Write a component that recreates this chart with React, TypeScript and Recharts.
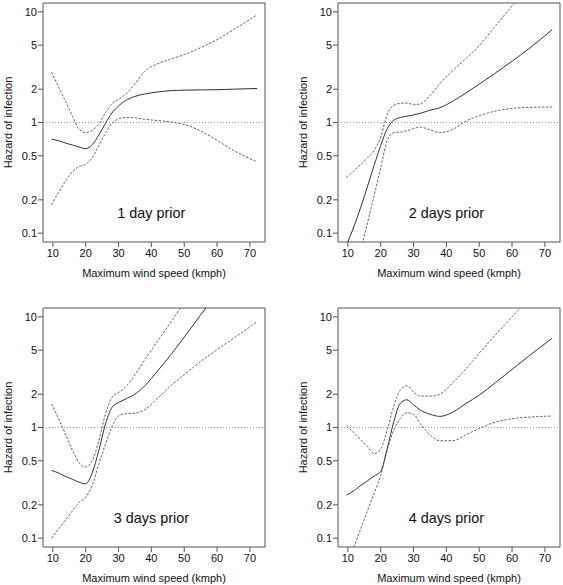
import React from 'react'
import {
  LineChart, Line, XAxis, YAxis, ReferenceLine, ReferenceArea, ReferenceDot, Label,
} from 'recharts'

// ── Hazard of infection vs maximum wind speed, lags 1–4 days ──
const FONT = '"Liberation Sans", Arial, Helvetica, sans-serif'

// wind speed grid (kmph) shared by every panel
const windSpeed = [9.6, 12, 14, 16, 18, 20, 22, 24, 26, 28, 30, 32, 35, 38, 42, 46, 50, 55, 60, 65, 72.2]

// 1 day prior
const est1 = [0.71, 0.68, 0.65, 0.625, 0.6, 0.58, 0.63, 0.77, 0.98, 1.22, 1.41, 1.57, 1.72, 1.81, 1.89, 1.94, 1.96, 1.97, 1.98, 2.0, 2.03]
const upper1 = [2.85, 2.02, 1.52, 1.13, 0.87, 0.81, 0.85, 0.97, 1.22, 1.47, 1.62, 1.78, 2.25, 2.9, 3.4, 3.75, 4.1, 4.75, 5.6, 6.9, 9.4]
const lower1 = [0.18, 0.24, 0.3, 0.36, 0.4, 0.42, 0.48, 0.62, 0.8, 0.98, 1.08, 1.11, 1.1, 1.07, 1.04, 1.01, 0.96, 0.84, 0.69, 0.56, 0.44]

// 2 days prior
const est2 = [0.078, 0.118, 0.174, 0.265, 0.41, 0.62, 0.88, 1.05, 1.11, 1.14, 1.17, 1.21, 1.29, 1.36, 1.56, 1.85, 2.22, 2.81, 3.58, 4.61, 6.9]
const upper2 = [0.32, 0.37, 0.42, 0.48, 0.56, 0.74, 1.19, 1.43, 1.49, 1.5, 1.45, 1.47, 1.75, 2.25, 2.95, 3.8, 4.95, 7.5, 11.3, 17, 30]
const lower2 = [0.02, 0.035, 0.07, 0.124, 0.22, 0.39, 0.69, 0.81, 0.82, 0.84, 0.88, 0.91, 0.86, 0.81, 0.87, 1.03, 1.15, 1.27, 1.34, 1.37, 1.38]

// 3 days prior
const est3 = [0.41, 0.385, 0.36, 0.34, 0.32, 0.31, 0.39, 0.62, 1.07, 1.52, 1.68, 1.8, 2.0, 2.38, 3.27, 4.57, 6.55, 10.4, 16.4, 26, 50]
const upper3 = [1.63, 1.16, 0.85, 0.62, 0.48, 0.44, 0.5, 0.76, 1.32, 1.87, 2.07, 2.3, 3.0, 4.1, 6.1, 9.0, 13.4, 20, 30, 45, 80]
const lower3 = [0.1, 0.124, 0.148, 0.177, 0.21, 0.235, 0.3, 0.47, 0.7, 1.02, 1.27, 1.33, 1.35, 1.45, 1.85, 2.4, 3.0, 3.95, 5.05, 6.4, 9.0]

// 4 days prior
const est4 = [0.245, 0.27, 0.3, 0.33, 0.364, 0.4, 0.65, 1.13, 1.66, 1.78, 1.6, 1.44, 1.32, 1.26, 1.38, 1.65, 1.96, 2.55, 3.35, 4.4, 6.4]
const upper4 = [1.03, 0.89, 0.77, 0.67, 0.58, 0.64, 0.95, 1.57, 2.19, 2.38, 2.09, 1.93, 1.92, 2.0, 2.55, 3.4, 4.7, 6.9, 10.0, 14.5, 25]
const lower4 = [0.056, 0.085, 0.123, 0.177, 0.255, 0.37, 0.63, 0.95, 1.21, 1.36, 1.32, 1.09, 0.86, 0.76, 0.76, 0.86, 0.98, 1.12, 1.2, 1.24, 1.27]

const xTicks = [10, 20, 30, 40, 50, 60, 70]
const yTicks = [0.1, 0.2, 0.5, 1, 2, 5, 10]

const X_DOMAIN: [number, number] = [7, 74.6]
const Y_DOMAIN: [number, number] = [Math.pow(10, -1.08), Math.pow(10, 1.08)]

const tickStyle = { fontSize: 11, fill: '#111', fontFamily: FONT }

function Panel({ title, est, upper, lower, left, top }: {
  title: string
  est: number[]
  upper: number[]
  lower: number[]
  left: number
  top: number
}) {
  const data = windSpeed.map((x, i) => ({ x, est: est[i], upper: upper[i], lower: lower[i] }))
  return (
    <div style={{ position: 'absolute', left, top }}>
      <LineChart width={280} height={290} data={data} margin={{ top: 3, right: 15, bottom: 13, left: 0 }}>
        <XAxis
          dataKey="x" type="number" domain={X_DOMAIN} ticks={xTicks} allowDataOverflow
          axisLine={false} tickSize={5} tickMargin={2} tickLine={{ stroke: '#555' }} tick={tickStyle} height={35}
        >
          <Label value="Maximum wind speed (kmph)" position="insideBottom" offset={0}
            style={{ fontSize: 11, fill: '#111', fontFamily: FONT }} />
        </XAxis>
        <YAxis
          type="number" scale="log" domain={Y_DOMAIN} ticks={yTicks} allowDataOverflow width={43}
          axisLine={false} tickSize={5} tickMargin={1} tickLine={{ stroke: '#555' }} tick={tickStyle}
          tickFormatter={(v) => String(v)}
        >
          <Label value="Hazard of infection" angle={-90} position="insideLeft" offset={8}
            style={{ fontSize: 11, fill: '#111', fontFamily: FONT, textAnchor: 'middle' }} />
        </YAxis>
        <ReferenceLine y={1} stroke="#999" strokeDasharray="1 2" strokeWidth={1} ifOverflow="visible" />
        <Line type="monotone" dataKey="upper" stroke="#666" strokeWidth={1} strokeDasharray="2.5 1.5" dot={false} isAnimationActive={false} />
        <Line type="monotone" dataKey="lower" stroke="#666" strokeWidth={1} strokeDasharray="2.5 1.5" dot={false} isAnimationActive={false} />
        <Line type="monotone" dataKey="est" stroke="#333" strokeWidth={1} dot={false} isAnimationActive={false} />
        <ReferenceArea x1={X_DOMAIN[0]} x2={X_DOMAIN[1]} y1={Y_DOMAIN[0]} y2={Y_DOMAIN[1]}
          fill="none" fillOpacity={0} stroke="#555" strokeWidth={1} ifOverflow="visible" />
        <ReferenceDot x={40} y={0.153} r={1} fill="none" stroke="none" ifOverflow="visible">
          <Label value={title} position="center" style={{ fontSize: 14.4, fill: '#111', fontFamily: FONT }} />
        </ReferenceDot>
      </LineChart>
    </div>
  )
}

export default function App() {
  return (
    <div style={{ position: 'absolute', left: 0, top: 0, width: 563, height: 585, background: '#fff' }}>
      <Panel title="1 day prior" est={est1} upper={upper1} lower={lower1} left={0} top={0} />
      <Panel title="2 days prior" est={est2} upper={upper2} lower={lower2} left={295} top={0} />
      <Panel title="3 days prior" est={est3} upper={upper3} lower={lower3} left={0} top={305} />
      <Panel title="4 days prior" est={est4} upper={upper4} lower={lower4} left={295} top={305} />
    </div>
  )
}
